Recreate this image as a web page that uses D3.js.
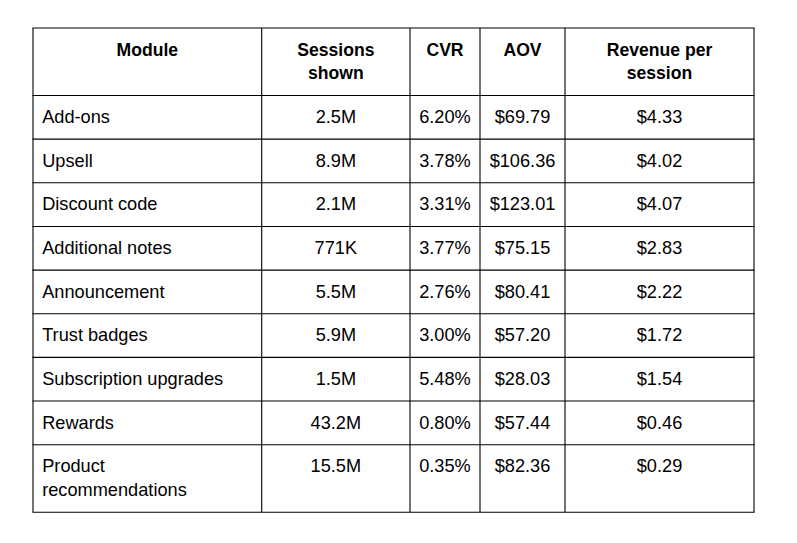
<!DOCTYPE html>
<html>
<head>
<meta charset="utf-8">
<script src="https://cdn.jsdelivr.net/npm/d3@7"></script>
<style>
  html, body { margin: 0; padding: 0; background: #fff; }
  svg text { font-family: "Liberation Sans", Arial, sans-serif; font-size: 18.2px; fill: #000; }
  svg text.head { font-weight: bold; font-size: 17.6px; }
</style>
</head>
<body>
<svg id="chart"></svg>
<script>
// table content
const headers = ["Module", "Sessions\nshown", "CVR", "AOV", "Revenue per\nsession"];
const modules = ["Add-ons", "Upsell", "Discount code", "Additional notes", "Announcement",
                 "Trust badges", "Subscription upgrades", "Rewards", "Product\nrecommendations"];
const sessions = ["2.5M", "8.9M", "2.1M", "771K", "5.5M", "5.9M", "1.5M", "43.2M", "15.5M"];
const cvr = ["6.20%", "3.78%", "3.31%", "3.77%", "2.76%", "3.00%", "5.48%", "0.80%", "0.35%"];
const aov = ["$69.79", "$106.36", "$123.01", "$75.15", "$80.41", "$57.20", "$28.03", "$57.44", "$82.36"];
const revPerSession = ["$4.33", "$4.02", "$4.07", "$2.83", "$2.22", "$1.72", "$1.54", "$0.46", "$0.29"];

const width = 797, height = 543;
const cols = d3.range(headers.length);
const colEdges = [33, 261.7, 410, 480, 565, 754];
const pad = 9.9, lineH = 23.85, baseOff = 27.6;

const rows = [headers].concat(modules.map((m, i) => [m, sessions[i], cvr[i], aov[i], revPerSession[i]]));
const rowLines = rows.map(r => d3.max(r, c => c.split("\n").length));
const rowHeights = rowLines.map(n => 2 * pad + n * lineH);
const rowTops = [0].concat(Array.from(d3.cumsum(rowHeights)));

const x = d3.scaleOrdinal().domain(cols.concat([cols.length])).range(colEdges);
const y = d3.scaleLinear().domain([0, 1]).range([28, 29]);

const svg = d3.select("#chart").attr("width", width).attr("height", height);

// grid lines
const grid = svg.append("g").attr("stroke", "#000").attr("stroke-width", 1.1);
grid.selectAll("line.h")
  .data(rowTops)
  .join("line")
    .attr("class", "h")
    .attr("x1", x(0) - 0.5)
    .attr("x2", x(cols.length) + 0.5)
    .attr("y1", d => y(d))
    .attr("y2", d => y(d));
grid.selectAll("line.v")
  .data(cols.concat([cols.length]))
  .join("line")
    .attr("class", "v")
    .attr("x1", d => x(d))
    .attr("x2", d => x(d))
    .attr("y1", y(0))
    .attr("y2", y(rowTops[rowTops.length - 1]));

// cell text
const rowG = svg.selectAll("g.row")
  .data(rows)
  .join("g")
    .attr("class", "row")
    .attr("transform", (d, i) => `translate(0, ${y(rowTops[i])})`);

rowG.selectAll("text")
  .data((r, ri) => r.map((c, ci) => ({text: c, col: ci, head: ri === 0})))
  .join("text")
    .attr("class", d => d.head ? "head" : null)
    .attr("text-anchor", d => (d.col === 0 && !d.head) ? "start" : "middle")
    .attr("x", d => (d.col === 0 && !d.head) ? x(0) + 9.2 : (x(d.col) + x(d.col + 1)) / 2)
    .attr("y", baseOff)
    .each(function(d) {
      const t = d3.select(this);
      d.text.split("\n").forEach((line, k) => {
        t.append("tspan")
          .attr("x", t.attr("x"))
          .attr("dy", k === 0 ? 0 : lineH)
          .text(line);
      });
    });
</script>
</body>
</html>
